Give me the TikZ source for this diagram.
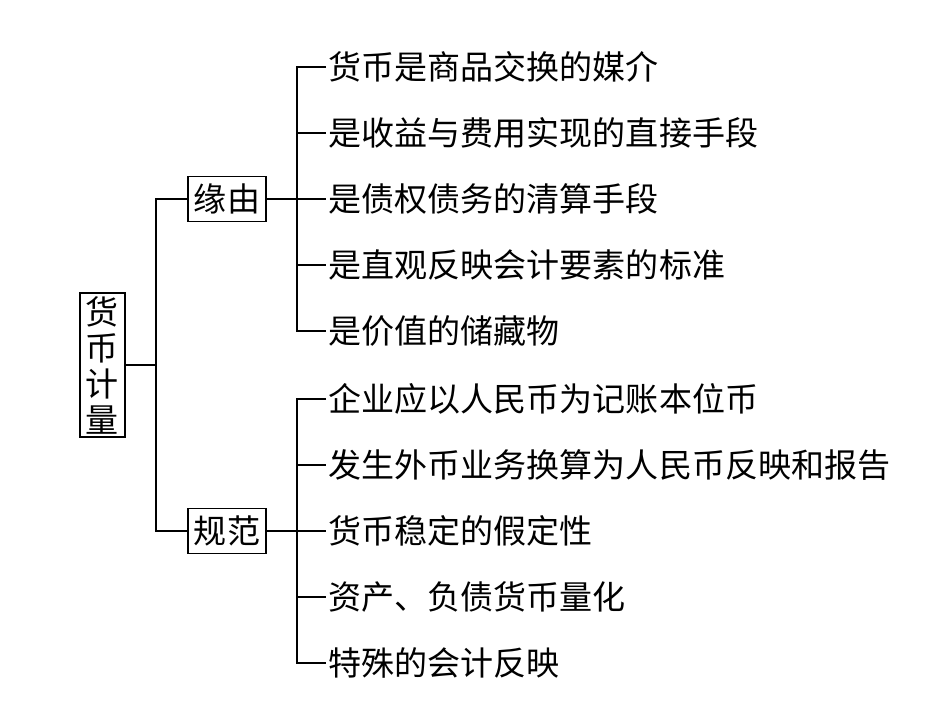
\documentclass[tikz,border=0pt]{standalone}
\usepackage{fontspec}
\newfontfamily\cjk{Noto Sans CJK SC}
\usepackage{tikz}
\usetikzlibrary{positioning}
\tikzset{
  cjktext/.style={font=\cjk\fontsize{9.4}{10.25}\selectfont},
  rootbox/.style={draw, cjktext, align=center, inner sep=0pt, minimum width=0.45cm, minimum height=1.44cm},
  midbox/.style={draw, cjktext, inner sep=0pt, minimum width=0.78cm, minimum height=0.45cm},
  leaf/.style={cjktext, anchor=west, inner sep=0.5pt},
}

\begin{document}
\begin{tikzpicture}[line width=0.5pt]
  \useasboundingbox (0,0) rectangle (9.38,7.04);
  % root and the two branches
  \node[rootbox] (root) at (1.025,3.39) {货\\币\\计\\量};
  \node[midbox] (yuan) at (2.27,5.05) {缘由};
  \node[midbox] (gui) at (2.27,1.73) {规范};
  \coordinate (rb) at (1.56,3.39);
  \coordinate (b1) at (2.97,5.05);
  \coordinate (b2) at (2.97,1.73);
  % leaves of 缘由
  \node[leaf] (a1) at (3.26,6.37) {货币是商品交换的媒介};
  \node[leaf] (a2) at (3.26,5.71) {是收益与费用实现的直接手段};
  \node[leaf] (a3) at (3.26,5.05) {是债权债务的清算手段};
  \node[leaf] (a4) at (3.26,4.39) {是直观反映会计要素的标准};
  \node[leaf] (a5) at (3.26,3.73) {是价值的储藏物};
  % leaves of 规范
  \node[leaf] (c1) at (3.26,3.05) {企业应以人民币为记账本位币};
  \node[leaf] (c2) at (3.26,2.39) {发生外币业务换算为人民币反映和报告};
  \node[leaf] (c3) at (3.26,1.73) {货币稳定的假定性};
  \node[leaf] (c4) at (3.26,1.07) {资产、负债货币量化};
  \node[leaf] (c5) at (3.26,0.41) {特殊的会计反映};
  % connectors
  \draw (root.east) -- (rb);
  \draw (yuan.west) -| (rb) |- (gui.west);
  \draw (yuan.east) -- (b1);
  \draw (a1.west) -| (b1) |- (a5.west);
  \draw (b1 |- a2.west) -- (a2.west);
  \draw (b1) -- (a3.west);
  \draw (b1 |- a4.west) -- (a4.west);
  \draw (gui.east) -- (b2);
  \draw (c1.west) -| (b2) |- (c5.west);
  \draw (b2 |- c2.west) -- (c2.west);
  \draw (b2) -- (c3.west);
  \draw (b2 |- c4.west) -- (c4.west);
\end{tikzpicture}
\end{document}
